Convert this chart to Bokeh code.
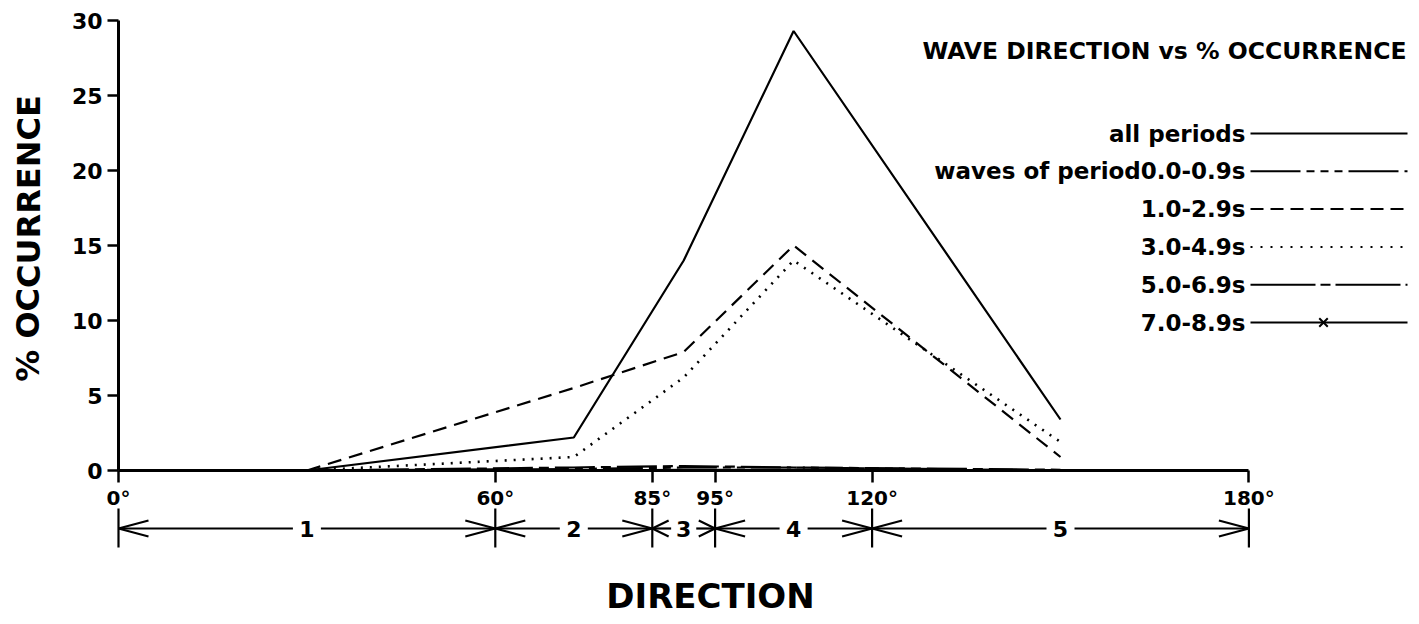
from bokeh.plotting import figure
from bokeh.models import Range1d, FixedTicker
from bokeh.core.properties import value
from bokeh.embed import file_html
from bokeh.resources import INLINE

# ---------------- data ----------------
DIRECTIONS = [30, 72.5, 90, 107.5, 150]          # sector mid-directions (deg)
SECTOR_BOUNDS = [0, 60, 85, 95, 120, 180]
SECTOR_NAMES = ["1", "2", "3", "4", "5"]
X_TICK_LABELS = ["0°", "60°", "85°", "95°", "120°", "180°"]
Y_TICKS = [0, 5, 10, 15, 20, 25, 30]

ALL_PERIODS = [0.0, 2.2, 14.0, 29.3, 3.4]
P_00_09 = [0.0, 0.1, 0.2, 0.2, 0.0]
P_10_29 = [0.0, 5.5, 7.9, 15.0, 0.9]
P_30_49 = [0.0, 0.9, 6.2, 14.0, 1.9]
P_50_69 = [0.0, 0.2, 0.3, 0.2, 0.05]
P_70_89 = [0.0, 0.0, 0.05, 0.05, 0.0]

SERIES_LABELS = ["all periods", "waves of period0.0-0.9s", "1.0-2.9s",
                 "3.0-4.9s", "5.0-6.9s", "7.0-8.9s"]
TITLE = "WAVE DIRECTION vs % OCCURRENCE"
X_TITLE = "DIRECTION"
Y_TITLE = "% OCCURRENCE"

# ---------------- layout ----------------
W, H = 1419, 624
X0_PX, PX_DEG = 118.0, 6.28       # pixel of 0 deg, pixels per degree
Y0_PX, PX_UNIT = 470.0, 15.0      # pixel of 0 %, pixels per %


def dx(px):
    return px / PX_DEG


def dy(px):
    return px / PX_UNIT


FONT = value("DejaVu Sans")

p = figure(width=W, height=H, output_backend="svg", toolbar_location=None,
           x_range=Range1d(-X0_PX / PX_DEG, (W - X0_PX) / PX_DEG),
           y_range=Range1d(-(H - Y0_PX) / PX_UNIT, Y0_PX / PX_UNIT),
           min_border=0)
p.outline_line_color = None
p.grid.visible = False
p.background_fill_color = "white"
p.border_fill_color = "white"

# axes
xa = p.xaxis[0]
xa.fixed_location = 0
xa.bounds = (SECTOR_BOUNDS[0], SECTOR_BOUNDS[-1])
xa.ticker = FixedTicker(ticks=SECTOR_BOUNDS)
xa.major_label_overrides = {b: t for b, t in zip(SECTOR_BOUNDS, X_TICK_LABELS)}
xa.major_tick_in = 0
xa.major_tick_out = 12
xa.minor_tick_out = 0
xa.minor_tick_in = 0
xa.axis_line_width = 3
xa.major_tick_line_width = 2.5
xa.major_label_text_font = "DejaVu Sans"
xa.major_label_text_font_style = "bold"
xa.major_label_text_font_size = "20px"
xa.major_label_standoff = 3
xa.major_label_text_color = "black"

ya = p.yaxis[0]
ya.fixed_location = 0
ya.bounds = (Y_TICKS[0], Y_TICKS[-1])
ya.ticker = FixedTicker(ticks=Y_TICKS)
ya.major_tick_in = 0
ya.major_tick_out = 11
ya.minor_tick_out = 0
ya.minor_tick_in = 0
ya.axis_line_width = 3
ya.major_tick_line_width = 2.5
ya.major_label_text_font = "DejaVu Sans"
ya.major_label_text_font_style = "bold"
ya.major_label_text_font_size = "22px"
ya.major_label_standoff = 5
ya.major_label_text_color = "black"

# series styles
SERIES = [ALL_PERIODS, P_00_09, P_10_29, P_30_49, P_50_69, P_70_89]
DASHES = ["solid", "40 6 8 6 8 6", "14 8", "2 7", "40 6 10 6", "solid"]
WIDTHS = [2.2, 2.2, 2.2, 2.6, 2.2, 2.2]

for ys, dash, lw in zip(SERIES, DASHES, WIDTHS):
    p.line(DIRECTIONS, ys, line_color="black", line_width=lw, line_dash=dash)

# legend (labels to the left of the sample lines)
LEG_X_TEXT = dx(1245 - X0_PX)
LEG_X0, LEG_X1 = dx(1250 - X0_PX), dx(1407 - X0_PX)
LEG_Y0, LEG_STEP = dy(Y0_PX - 133), dy(37.8)
LEG_DASHES = ["solid", "50 6 8 6 8 6 8 6", "13 7", "2 8", "65 5 10 5", "solid"]
leg_ys = [LEG_Y0 - i * LEG_STEP for i in range(len(SERIES_LABELS))]
p.text(x=[LEG_X_TEXT] * len(SERIES_LABELS), y=leg_ys, text=SERIES_LABELS,
       text_font=FONT, text_font_style="bold", text_font_size="23px",
       text_align="right", text_baseline="middle", text_color="black")
for yy, dash in zip(leg_ys, LEG_DASHES):
    p.line([LEG_X0, LEG_X1], [yy, yy], line_color="black", line_width=2,
           line_dash=dash)
p.scatter(x=[dx(1323 - X0_PX)], y=[leg_ys[-1]], marker="x", size=12,
          line_color="black", line_width=2, fill_color=None)

# title
p.text(x=[dx(1406 - X0_PX)], y=[dy(Y0_PX - 50)], text=[TITLE], text_font=FONT,
       text_font_style="bold", text_font_size="23.5px", text_align="right",
       text_baseline="middle", text_color="black")

# sector brackets under the axis
ROW_Y = -dy(528 - Y0_PX)
V_TOP, V_BOT = -dy(508 - Y0_PX), -dy(547 - Y0_PX)
HEAD_H = dy(8)
xs_lines, ys_lines = [], []
for b in SECTOR_BOUNDS:
    xs_lines.append([b, b])
    ys_lines.append([V_TOP, V_BOT])
mids = []
for a, c in zip(SECTOR_BOUNDS[:-1], SECTOR_BOUNDS[1:]):
    m = (a + c) / 2
    mids.append(m)
    head_l = min(dx(30), 0.26 * (c - a))
    gap = min(dx(14), 0.2 * (c - a))
    xs_lines += [[a, m - gap], [m + gap, c]]
    ys_lines += [[ROW_Y, ROW_Y], [ROW_Y, ROW_Y]]
    # arrow head at start (pointing left) and at end (pointing right)
    xs_lines += [[a + head_l, a, a + head_l], [c - head_l, c, c - head_l]]
    ys_lines += [[ROW_Y + HEAD_H, ROW_Y, ROW_Y - HEAD_H],
                 [ROW_Y + HEAD_H, ROW_Y, ROW_Y - HEAD_H]]
p.multi_line(xs_lines, ys_lines, line_color="black", line_width=2.2)
p.text(x=mids, y=[ROW_Y] * len(mids), text=SECTOR_NAMES, text_font=FONT,
       text_font_style="bold", text_font_size="22px", text_align="center",
       text_baseline="middle", text_color="black",
       background_fill_color="white")

# axis titles
p.text(x=[dx(710 - X0_PX)], y=[-dy(595 - Y0_PX)], text=[X_TITLE], text_font=FONT,
       text_font_style="bold", text_font_size="34px", text_align="center",
       text_baseline="middle", text_color="black")
p.text(x=[-dx(X0_PX - 28)], y=[dy(Y0_PX - 238)], text=[Y_TITLE], text_font=FONT,
       text_font_style="bold", text_font_size="32px", text_align="center",
       text_baseline="middle", angle=1.5707963, text_color="black")

open("out.html", "w").write(file_html(p, INLINE))
